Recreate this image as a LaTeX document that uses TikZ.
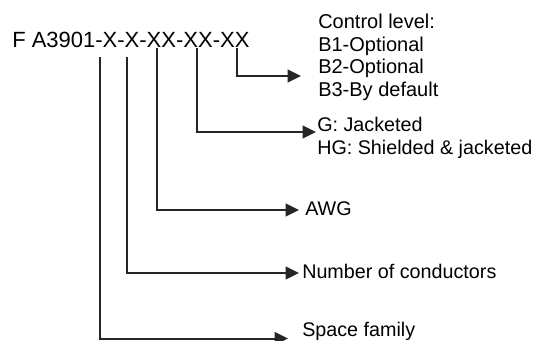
\documentclass[tikz,border=0pt]{standalone}
\usepackage{fontspec}
\setmainfont{Liberation Sans}
\usetikzlibrary{arrows.meta}
\begin{document}
\begin{tikzpicture}[x=0.75pt,y=-0.75pt,
    lbl/.style={anchor=base west,inner sep=0pt,align=left,font=\fontsize{14.8}{17}\selectfont},
    conn/.style={draw=black!85,line width=1.5pt,-{Triangle[length=10pt,width=9.5pt]}}]
  \useasboundingbox (0,0) rectangle (539,340);
  % part number
  \node[anchor=base west,inner sep=0pt,font=\fontsize{16.5}{20}\selectfont] (code) at (12,47) {F A3901-X-X-XX-XX-XX};
  % descriptions (base = last line)
  \node[lbl,font=\fontsize{15}{17}\selectfont] (ctrl) at (318,96.5) {Control level:\\B1-Optional\\B2-Optional\\B3-By default};
  \node[lbl] (jack) at (317,154)  {G: Jacketed\\HG: Shielded \& jacketed};
  \node[lbl] (awg)  at (305,215)  {AWG};
  \node[lbl] (cond) at (302,278.3) {Number of conductors};
  \node[lbl] (fam)  at (302,336.7) {Space family};
  % line starts under the code and arrow tips
  \coordinate (p1) at (100,57);   \coordinate (t1) at (288,338.5);
  \coordinate (p2) at (127,57);   \coordinate (t2) at (299,273);
  \coordinate (p3) at (157,48);   \coordinate (t3) at (299,210);
  \coordinate (p4) at (197,48);   \coordinate (t4) at (316,132);
  \coordinate (p5) at (237,48);   \coordinate (t5) at (301,76);
  \draw[conn] (p1) |- (t1);
  \draw[conn] (p2) |- (t2);
  \draw[conn] (p3) |- (t3);
  \draw[conn] (p4) |- (t4);
  \draw[conn] (p5) |- (t5);
\end{tikzpicture}
\end{document}
